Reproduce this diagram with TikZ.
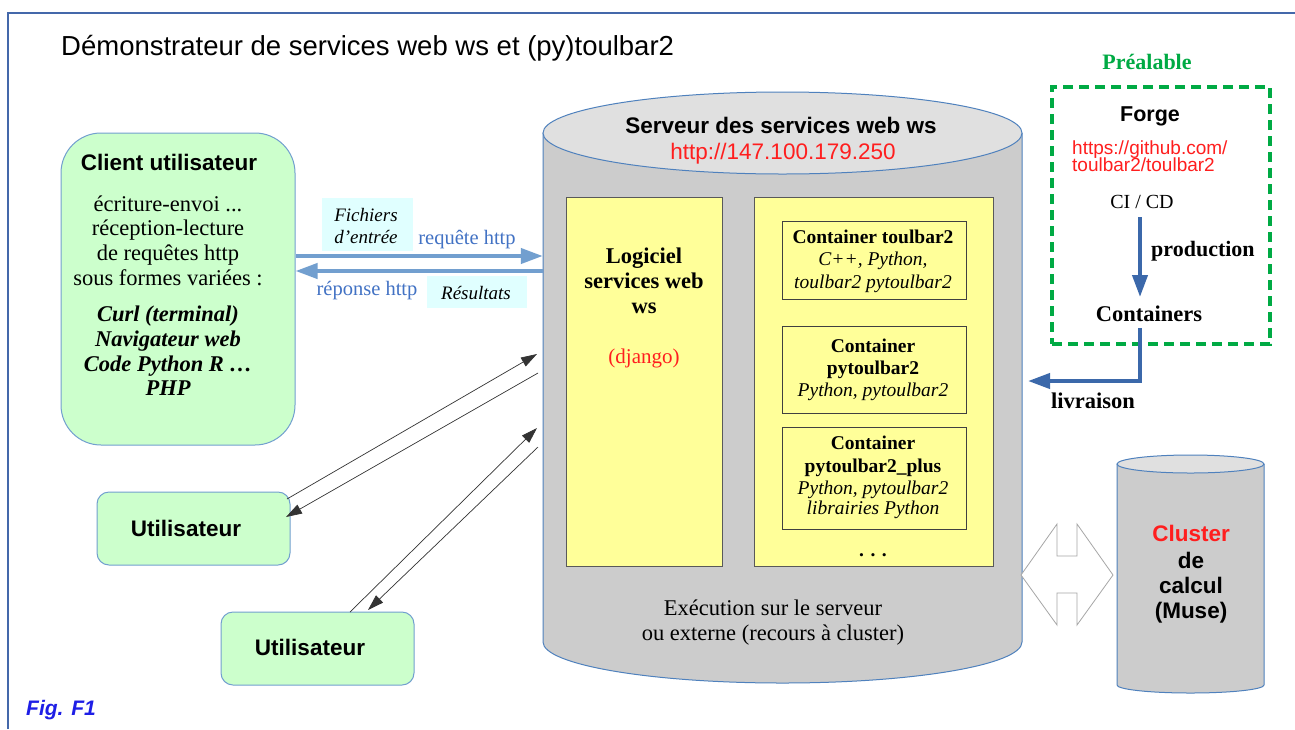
\documentclass[tikz,border=0pt]{standalone}
\usepackage{fontspec}
\setmainfont{Liberation Serif}
\setsansfont{Liberation Sans}
\usetikzlibrary{arrows.meta}
\definecolor{frameblue}{RGB}{68,104,170}
\definecolor{boxgreen}{RGB}{204,255,204}
\definecolor{boxedge}{RGB}{114,159,207}
\definecolor{cylgray}{RGB}{204,204,204}
\definecolor{cyltop}{RGB}{224,224,224}
\definecolor{cyledge}{RGB}{79,129,189}
\definecolor{softyellow}{RGB}{255,255,153}
\definecolor{httpblue}{RGB}{114,159,207}
\definecolor{labelblue}{RGB}{66,114,196}
\definecolor{cyanbg}{RGB}{224,255,255}
\definecolor{darkblue}{RGB}{59,104,170}
\definecolor{prealgreen}{RGB}{0,170,68}
\definecolor{urlred}{RGB}{255,30,30}
\definecolor{figblue}{RGB}{30,30,230}
\newcommand\fs[1]{\fontsize{#1}{#1}\selectfont}
\begin{document}
\begin{tikzpicture}[x=1pt,y=-1pt,
  t/.style={inner sep=0pt, text height=16pt, text depth=0pt},
  greenbox/.style={draw=boxedge, fill=boxgreen, line width=1pt, inner sep=0pt},
  yellowbox/.style={draw=black!65, fill=softyellow, line width=1pt, inner sep=0pt},
  innerbox/.style={draw=black!75, fill=softyellow, line width=1pt, inner sep=0pt, minimum width=184pt},
  httparrow/.style={httpblue, line width=4pt, -{Triangle[length=22pt,width=15pt]}},
  userarrow/.style={black!80, line width=0.7pt, -{Triangle[length=16pt,width=10pt]}},
  delivarrow/.style={darkblue, line width=4pt, -{Triangle[length=22pt,width=15pt]}},
  cyanlabel/.style={fill=cyanbg, inner sep=0pt},
  cyl/.style={cyledge, line width=1pt}
]
\useasboundingbox (0,0) rectangle (1295,729);
\fill[white] (0,0) rectangle (1295,729);
\draw[frameblue, line width=1.2pt] (8,729) -- (8,13) -- (1295,13);

% title
\node[t, anchor=west, font=\sffamily\fs{27.5}, text height=19pt] (title) at (61,46) {Démonstrateur de services web ws et (py)toulbar2};

% client box
\node[greenbox, rounded corners=40pt, minimum width=234pt, minimum height=312pt] (client) at (178,289) {};
\node[t, font=\sffamily\bfseries\fs{22.5}] (clientT) at (169,162) {Client utilisateur};
\node[t, font=\fs{22.5}] (cl1) at (168,203) {écriture-envoi ...};
\node[t, font=\fs{22.5}] (cl2) at (168,227) {réception-lecture};
\node[t, font=\fs{22.5}] (cl3) at (168,252) {de requêtes http};
\node[t, font=\fs{22.5}] (cl4) at (168,277) {sous formes variées :};
\node[t, font=\bfseries\itshape\fs{22.5}] (cl5) at (168,313) {Curl (terminal)};
\node[t, font=\bfseries\itshape\fs{22.5}] (cl6) at (168,338) {Navigateur web};
\node[t, font=\bfseries\itshape\fs{22.5}] (cl7) at (168,363) {Code Python R …};
\node[t, font=\bfseries\itshape\fs{22.5}] (cl8) at (168,387) {PHP};

% server cylinder
\fill[cylgray] (543,133) -- (543,642) arc[start angle=180, end angle=360, x radius=239.5pt, y radius=41pt] -- (1022,133) -- cycle;
\draw[cyl] (543,133) -- (543,642) arc[start angle=180, end angle=360, x radius=239.5pt, y radius=41pt] -- (1022,133);
\draw[cyl, fill=cyltop] (782.5,133) ellipse[x radius=239.5pt, y radius=41pt];
\node[inner sep=0pt, minimum width=479pt, minimum height=550pt] (srv) at (782.5,408) {};
\node[t, font=\sffamily\bfseries\fs{22.5}] (srvT) at (781,125) {Serveur des services web ws};
\node[t, font=\sffamily\fs{22.5}, text=urlred] (srvU) at (783,151) {http://147.100.179.250};

% logiciel
\node[yellowbox, minimum width=156pt, minimum height=369pt] (logi) at (644,381.5) {};
\node[t, font=\bfseries\fs{22.5}] (lg1) at (644,255) {Logiciel};
\node[t, font=\bfseries\fs{22.5}] (lg2) at (644,280) {services web};
\node[t, font=\bfseries\fs{22.5}] (lg3) at (644,305) {ws};
\node[t, font=\fs{21}, text=urlred] (lg4) at (644,355) {(django)};

% containers
\node[yellowbox, minimum width=239pt, minimum height=369pt] (cont) at (873.5,381.5) {};
\node[innerbox, minimum height=78pt] (c1) at (874,260) {};
\node[t, font=\bfseries\fs{19.5}, text height=14pt] (c1a) at (873,236) {Container toulbar2};
\node[t, font=\itshape\fs{19.5}, text height=14pt] (c1b) at (873,258) {C++, Python,};
\node[t, font=\itshape\fs{19.5}, text height=14pt] (c1c) at (873,281) {toulbar2 pytoulbar2};
\node[innerbox, minimum height=87pt] (c2) at (874,369.5) {};
\node[t, font=\bfseries\fs{19.5}, text height=14pt] (c2a) at (873,345) {Container};
\node[t, font=\bfseries\fs{19.5}, text height=14pt] (c2b) at (873,367) {pytoulbar2};
\node[t, font=\itshape\fs{19.5}, text height=14pt] (c2c) at (873,389) {Python, pytoulbar2};
\node[innerbox, minimum height=102pt] (c3) at (874,478) {};
\node[t, font=\bfseries\fs{19.5}, text height=14pt] (c3a) at (873,442) {Container};
\node[t, font=\bfseries\fs{19.5}, text height=14pt] (c3b) at (873,465) {pytoulbar2\_plus};
\node[t, font=\itshape\fs{19.5}, text height=14pt] (c3c) at (873,487) {Python, pytoulbar2};
\node[t, font=\itshape\fs{19.5}, text height=14pt] (c3d) at (873,507) {librairies Python};
\node[t, font=\bfseries\fs{19.5}, text height=6pt] (c4) at (873,553) {. . .};

\node[t, font=\fs{22.5}] (ex1) at (773,607) {Exécution sur le serveur};
\node[t, font=\fs{22.5}] (ex2) at (773,632) {ou externe (recours à cluster)};

% http arrows
\coordinate (yreq) at (0,256);
\coordinate (yres) at (0,271);
\draw[httparrow] (client.east |- yreq) -- (srv.west |- yreq);
\draw[httparrow] (srv.west |- yres) -- (client.east |- yres);
\node[cyanlabel, minimum width=91pt, minimum height=53pt] (fich) at (367.5,224.5) {};
\node[t, font=\itshape\fs{19}, text height=14pt] (fich1) at (366,214) {Fichiers};
\node[t, font=\itshape\fs{19}, text height=14pt] (fich2) at (366,236) {d'entrée};
\node[t, font=\fs{20.5}, text height=14pt, text=labelblue] (req) at (467,237) {requête http};
\node[t, font=\fs{20.5}, text height=14pt, text=labelblue] (rep) at (367,288) {réponse http};
\node[cyanlabel, minimum width=100pt, minimum height=32pt] (resb) at (477,292) {};
\node[t, font=\itshape\fs{19}, text height=14pt] (res) at (476,292) {Résultats};

% users
\node[greenbox, rounded corners=12pt, minimum width=193pt, minimum height=73pt] (u1) at (193.5,528.5) {};
\node[t, font=\sffamily\bfseries\fs{22.5}] (u1t) at (186,528) {Utilisateur};
\node[greenbox, rounded corners=12pt, minimum width=193pt, minimum height=73pt] (u2) at (317.5,648.5) {};
\node[t, font=\sffamily\bfseries\fs{22.5}] (u2t) at (310,647) {Utilisateur};

\coordinate (u1a) at (287,499);
\coordinate (s1a) at (537,354);
\coordinate (s1b) at (538,373);
\coordinate (u1b) at (286,517);
\coordinate (u2a) at (350,612);
\coordinate (s2a) at (537,428);
\coordinate (s2b) at (538,447);
\coordinate (u2b) at (368,610);
\draw[userarrow] (u1a) -- (s1a);
\draw[userarrow] (s1b) -- (u1b);
\draw[userarrow] (u2a) -- (s2a);
\draw[userarrow] (s2b) -- (u2b);

% prealable
\node[t, font=\bfseries\fs{22}, text=prealgreen] (preal) at (1147,61) {Préalable};
\node[draw=prealgreen, line width=3.5pt, dash pattern=on 10pt off 6pt, minimum width=218pt, minimum height=257pt, inner sep=0pt] (forgebox) at (1161,215.5) {};
\node[t, font=\sffamily\bfseries\fs{21.5}] (forge) at (1150,113) {Forge};
\node[t, anchor=west, font=\sffamily\fs{19}, text height=14pt, text=urlred] (gh1) at (1072,147) {https://github.com/};
\node[t, anchor=west, font=\sffamily\fs{19}, text height=14pt, text=urlred] (gh2) at (1072,164) {toulbar2/toulbar2};
\node[t, font=\fs{20}, text height=14pt] (cicd) at (1142,201) {CI / CD};
\node[t, font=\bfseries\fs{22.5}] (contn) at (1149,313) {Containers};
\coordinate (p1) at (1140,217);
\coordinate (p2) at (1140,297);
\coordinate (l1) at (1140,328);
\coordinate (livr) at (1028,381);
\draw[delivarrow] (p1) -- (p2);
\node[t, font=\bfseries\fs{22}, anchor=west] (prod) at (1151,248) {production};
\draw[delivarrow] (l1) |- (livr);
\node[t, font=\bfseries\fs{22.5}] (livt) at (1093,400) {livraison};

% double arrow
\draw[gray!70, fill=white, line width=0.8pt] (1021,575) -- (1057,524) -- (1057,556) -- (1077,556) -- (1077,524) -- (1113,575) -- (1077,625) -- (1077,593) -- (1057,593) -- (1057,625) -- cycle;

% cluster cylinder
\fill[cylgray] (1117,464) -- (1117,685) arc[start angle=180, end angle=360, x radius=73.5pt, y radius=8pt] -- (1264,464) -- cycle;
\draw[cyl] (1117,464) -- (1117,685) arc[start angle=180, end angle=360, x radius=73.5pt, y radius=8pt] -- (1264,464);
\draw[cyl, fill=cyltop] (1190.5,464) ellipse[x radius=73.5pt, y radius=9pt];
\node[t, font=\sffamily\bfseries\fs{22.5}, text=urlred] (cl) at (1191,533) {Cluster};
\node[t, font=\sffamily\bfseries\fs{22.5}] (clb) at (1191,560) {de};
\node[t, font=\sffamily\bfseries\fs{22.5}] (clc) at (1191,585) {calcul};
\node[t, font=\sffamily\bfseries\fs{22.5}] (cld) at (1191,610) {(Muse)};

\node[t, font=\sffamily\bfseries\itshape\fs{21}, text=figblue, anchor=west] (fig) at (26,707) {Fig. F1};
\end{tikzpicture}
\end{document}
